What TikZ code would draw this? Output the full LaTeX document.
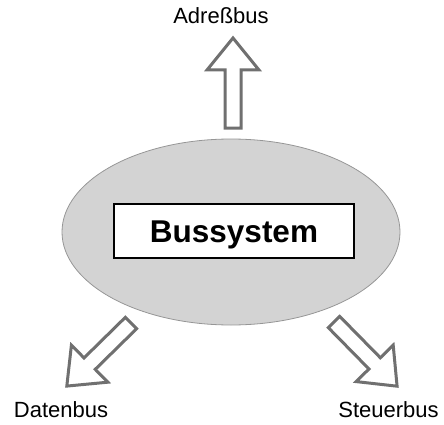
\documentclass[tikz,border=0pt]{standalone}
\usepackage{fontspec}
\setmainfont{Liberation Sans}
\definecolor{ellfill}{RGB}{211,211,211}
\definecolor{ellline}{RGB}{150,150,150}
\definecolor{arrline}{RGB}{112,112,112}
\tikzset{
  buslabel/.style={anchor=base,inner sep=0pt,font=\fontsize{22}{26}\selectfont},
  titlebox/.style={draw=black,line width=1.2pt,fill=white,minimum width=240pt,minimum height=54pt,inner sep=0pt},
  busell/.style={draw=ellline,line width=0.8pt,fill=ellfill},
  bigarrow/.pic={
    \draw[draw=arrline,line width=3pt,fill=white,line join=miter]
      (0,-8) -- (58,-8) -- (58,-26) -- (90,0) -- (58,26) -- (58,8) -- (0,8) -- cycle;
  }
}
\begin{document}
\begin{tikzpicture}[x=1pt,y=1pt]
\useasboundingbox (0,0) rectangle (444,424);
\draw[busell] (231,192) ellipse [x radius=169, y radius=93];
\node[titlebox] (sys) at (234,193) {};
\node[anchor=base,inner sep=0pt,font=\fontsize{31.5}{36}\selectfont\bfseries] (syslabel) at (234,182) {Bussystem};
\pic[rotate=90] (adrarrow) at (233,296) {bigarrow};
\pic[rotate=-135.5] (datarrow) at (131,101) {bigarrow};
\pic[rotate=-45.5] (stearrow) at (334,102) {bigarrow};
\node[buslabel] (adr) at (221,400) {Adreßbus};
\node[buslabel] (dat) at (61,7) {Datenbus};
\node[buslabel] (ste) at (388.5,7) {Steuerbus};
\end{tikzpicture}
\end{document}
